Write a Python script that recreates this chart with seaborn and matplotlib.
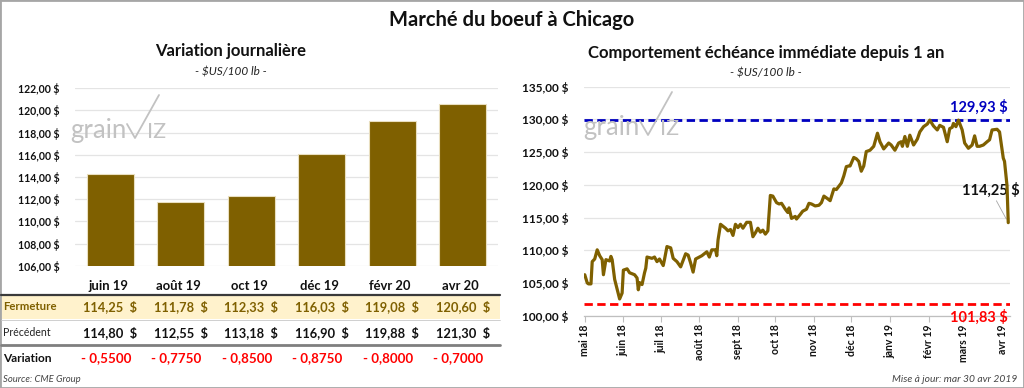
import numpy as np
import pandas as pd
import matplotlib
matplotlib.use('Agg')
import matplotlib.pyplot as plt
from matplotlib.transforms import blended_transform_factory
from matplotlib.patches import Rectangle
from matplotlib.lines import Line2D
import seaborn as sns

# ---------------- data ----------------
echeances = ['juin 19', 'août 19', 'oct 19', 'déc 19', 'févr 20', 'avr 20']
fermeture = [114.25, 111.78, 112.33, 116.03, 119.08, 120.60]
precedent = [114.80, 112.55, 113.18, 116.90, 119.88, 121.30]
variation = [-0.5500, -0.7750, -0.8500, -0.8750, -0.8000, -0.7000]

# days since 1 May 2018 / nearby futures price ($US/100 lb)
jours = [0, 2, 3, 5, 6, 8, 10, 12, 14, 15,
         17, 20, 21, 22, 24, 28, 30, 31, 34, 36,
         40, 42, 43, 44, 46, 48, 49, 50, 54, 56,
         58, 60, 63, 64, 66, 69, 71, 74, 77, 81,
         83, 85, 87, 89, 90, 94, 98, 100, 102, 105,
         106, 107, 109, 113, 115, 117, 119, 121, 123, 125,
         127, 130, 133, 135, 137, 139, 141, 143, 145, 147,
         149, 151, 154, 156, 158, 161, 163, 164, 166, 169,
         170, 173, 175, 178, 180, 182, 185, 188, 190, 192,
         195, 197, 200, 202, 204, 206, 208, 210, 212, 213,
         216, 218, 220, 222, 224, 226, 229, 232, 235, 237,
         240, 244, 246, 249, 252, 254, 255, 257, 259, 261,
         264, 267, 269, 272, 275, 277, 280, 283, 285, 288,
         291, 293, 295, 296, 298, 300, 303, 305, 308, 311,
         313, 315, 317, 320, 323, 325, 327, 331, 333, 336,
         337, 339, 340]
prix = [106.3, 105.05, 104.9, 104.9, 108.3, 108.7, 110.1, 109.2, 108.6, 106.3,
        108.6, 108.4, 109.1, 108.6, 105.6, 102.6, 103.5, 107.0, 107.2, 106.6,
        106.3, 105.8, 104.0, 105.1, 104.8, 106.6, 107.3, 109.0, 108.8, 109.0,
        108.3, 108.7, 107.7, 108.6, 110.6, 110.4, 108.8, 108.3, 107.5, 109.5,
        109.3, 108.1, 106.7, 108.7, 108.8, 109.2, 109.8, 109.0, 110.1, 110.1,
        109.2, 111.6, 114.0, 113.4, 113.0, 113.2, 112.3, 114.0, 113.5, 114.0,
        113.4, 114.3, 114.3, 112.1, 112.7, 113.4, 112.8, 113.1, 112.5, 113.0,
        118.4, 118.3, 117.3, 117.1, 117.2, 116.3, 115.8, 116.5, 114.9, 115.2,
        114.8, 115.5, 116.0, 116.3, 117.2, 117.1, 116.8, 116.9, 117.3, 118.3,
        117.9, 117.6, 119.4, 119.3, 119.8, 120.3, 121.4, 122.8, 122.9, 122.9,
        124.2, 124.0, 123.6, 122.1, 122.9, 125.1, 125.3, 125.9, 127.9, 126.6,
        125.5, 126.4, 126.1, 125.3, 126.4, 126.6, 125.9, 127.4, 125.9, 127.6,
        126.1, 127.0, 128.1, 128.9, 129.3, 129.9, 129.0, 128.4, 129.1, 128.8,
        126.6, 128.6, 128.8, 129.4, 128.9, 129.9, 128.4, 126.4, 125.6, 126.1,
        127.5, 125.9, 125.9, 126.1, 126.6, 126.9, 128.4, 128.5, 128.1, 124.1,
        123.6, 119.9, 114.25]
assert len(jours) == len(prix)

sommet = 129.93
creux = 101.83
dernier = 114.25
mois_labels = ['mai 18', 'juin 18', 'juil 18', 'août 18', 'sept 18', 'oct 18',
               'nov 18', 'déc 18', 'janv 19', 'févr 19', 'mars 19', 'avr 19']

# ---------------- style ----------------
sns.set_theme(style='white')
plt.rcParams['font.family'] = ['Lato', 'DejaVu Sans']

GOLD = '#7F6000'
W, H = 1024, 388


def fx(p):
    return p / W


def fy(p):
    return 1 - p / H


def fr(v, nd=2):
    return f"{v:.{nd}f}".replace('.', ',')


fig = plt.figure(figsize=(10.24, 3.88), dpi=100)
fig.patch.set_facecolor('white')

# ---------------- left: bar chart ----------------
ax1 = fig.add_axes([fx(75), fy(265.7), fx(498 - 75), (265.7 - 88.3) / H])
df_bar = pd.DataFrame({'echeance': echeances, 'fermeture': fermeture})
sns.barplot(data=df_bar, x='echeance', y='fermeture', ax=ax1, color=GOLD,
            saturation=1, width=0.66, edgecolor='#E9DFC0', linewidth=0.8,
            zorder=3)
ax1.set_ylim(106, 122)
yt1 = np.arange(106, 122.01, 2)
ax1.set_yticks(yt1)
ax1.set_yticklabels([fr(v) + ' $' for v in yt1], fontweight='bold', fontsize=7.6)
ax1.set_xlim(-0.5, 5.5)
ax1.grid(axis='y', color='#E4E4E4', lw=0.9)
ax1.set_axisbelow(True)
ax1.set_xlabel('')
ax1.set_ylabel('')
ax1.tick_params(axis='x', labelbottom=False, length=0)
ax1.tick_params(axis='y', length=0, pad=11, colors='#111111')
for s in ax1.spines.values():
    s.set_visible(False)

# ---------------- table under bars ----------------
trans = blended_transform_factory(ax1.transData, fig.transFigure)
fig.add_artist(Rectangle((fx(1), fy(319)), fx(499), (319 - 295) / H,
                         transform=fig.transFigure, facecolor='#FFF2CC',
                         edgecolor='none', zorder=0))
fig.add_artist(Line2D([fx(1), fx(500)], [fy(294.5), fy(294.5)], color='#3A3A3A', lw=1.6))
fig.add_artist(Line2D([fx(1), fx(500)], [fy(319.5), fy(319.5)], color='#C8C8C8', lw=0.6))
fig.add_artist(Line2D([fx(1), fx(500)], [fy(345), fy(345)], color='#7F7F7F', lw=2.0))

for i, m in enumerate(echeances):
    ax1.text(i - 0.03, fy(286.5), m, transform=trans, ha='center', va='center',
             fontsize=9.4, fontweight='bold', color='#111111', clip_on=False)
    ax1.text(i, fy(307), fr(fermeture[i]) + '  $', transform=trans, ha='center',
             va='center', fontsize=9.3, fontweight='bold', color=GOLD, clip_on=False)
    ax1.text(i, fy(332.5), fr(precedent[i]) + '  $', transform=trans, ha='center',
             va='center', fontsize=9.3, fontweight='bold', color='#111111', clip_on=False)
    ax1.text(i - 0.06, fy(358.5), '- ' + fr(abs(variation[i]), 4), transform=trans,
             ha='center', va='center', fontsize=9.6, fontweight='bold',
             color='#FF0000', clip_on=False)

fig.text(fx(3), fy(307), 'Fermeture', ha='left', va='center', fontsize=8.2,
         fontweight='bold', color=GOLD)
fig.text(fx(3), fy(332.5), 'Précédent', ha='left', va='center', fontsize=7.6,
         color='#222222')
fig.text(fx(3), fy(358.5), 'Variation', ha='left', va='center', fontsize=8.6,
         fontweight='bold', color='#111111')
fig.text(fx(3), fy(379.5), 'Source: CME Group', ha='left', va='center',
         fontsize=6.8, fontstyle='italic', color='#444444')

# ---------------- right: line chart ----------------
ax2 = fig.add_axes([fx(584), fy(316), fx(1010 - 584), (316 - 86.7) / H])
dates = pd.Timestamp('2018-05-01') + pd.to_timedelta(jours, unit='D')
df_line = pd.DataFrame({'date': dates, 'prix': prix})
sns.lineplot(data=df_line, x='date', y='prix', ax=ax2, color=GOLD, lw=2.3, zorder=4)
ax2.axhline(sommet, color='#0000C0', lw=2.0, ls=(0, (3, 1.6)), zorder=3)
ax2.axhline(creux, color='#FF0000', lw=2.0, ls=(0, (3, 1.6)), zorder=3)
ax2.set_ylim(100, 135)
yt2 = np.arange(100, 135.01, 5)
ax2.set_yticks(yt2)
ax2.set_yticklabels([fr(v) + ' $' for v in yt2], fontweight='bold', fontsize=8.5)
ax2.set_xlim(dates[0] - pd.Timedelta(days=0.6), dates[-1] + pd.Timedelta(days=1.4))
mticks = pd.date_range('2018-05-01', periods=len(mois_labels), freq='MS')
ax2.set_xticks(mticks)
ax2.set_xticklabels(mois_labels, rotation=90, fontweight='bold', fontsize=7.6)
ax2.grid(axis='y', color='#E4E4E4', lw=0.9)
ax2.set_axisbelow(True)
ax2.set_xlabel('')
ax2.set_ylabel('')
for k, s in ax2.spines.items():
    s.set_visible(k == 'bottom')
ax2.spines['bottom'].set_color('#BFBFBF')
ax2.spines['bottom'].set_linewidth(0.9)
ax2.tick_params(axis='y', length=0, pad=11, colors='#111111')
ax2.tick_params(axis='x', length=4, width=0.8, pad=2, colors='#111111', bottom=True)
ax2.tick_params(axis='x', color='#BFBFBF')

lbl = blended_transform_factory(ax2.transAxes, ax2.transData)
ax2.text(0.995, sommet + 1.9, fr(sommet) + ' $', transform=lbl, ha='right',
         va='center', fontsize=10.5, fontweight='bold', color='#0000C0', clip_on=False)
ax2.text(0.995, creux - 1.95, fr(creux) + ' $', transform=lbl, ha='right',
         va='center', fontsize=10.5, fontweight='bold', color='#FF0000', clip_on=False)
ax2.annotate(fr(dernier) + ' $', xy=(dates[-1], dernier), xycoords='data',
             xytext=(1.022, dernier + 5.0), textcoords=lbl, ha='right', va='center',
             fontsize=10.5, fontweight='bold', color='#111111', annotation_clip=False,
             arrowprops=dict(arrowstyle='-', color='#A6A6A6', lw=0.6,
                             shrinkA=0, shrinkB=3))


# ---------------- watermark logos ----------------
def logo(x0, base):
    c = '#C2C2C2'
    fig.text(fx(x0), fy(base), 'grain', ha='left', va='baseline', fontsize=18.5,
             color=c, zorder=1)
    fig.add_artist(Line2D([fx(x0 + 57), fx(x0 + 65), fx(x0 + 89)],
                          [fy(base - 14), fy(base), fy(base - 43)],
                          color=c, lw=1.3, zorder=1))
    fig.text(fx(x0 + 77), fy(base), 'IZ', ha='left', va='baseline', fontsize=15.5,
             color=c, zorder=1)


logo(70, 138)
logo(583, 135)

# ---------------- titles ----------------
fig.text(0.5, fy(20), 'Marché du boeuf à Chicago', ha='center', va='center',
         fontsize=14.5, fontweight='bold', color='#111111')
fig.text(fx(231), fy(51), 'Variation journalière', ha='center', va='center',
         fontsize=12, fontweight='bold', color='#111111')
fig.text(fx(231), fy(72), '- $US/100 lb -', ha='center', va='center',
         fontsize=8.5, fontstyle='italic', color='#222222')
fig.text(fx(766), fy(53), 'Comportement échéance immédiate depuis 1 an',
         ha='center', va='center', fontsize=12, fontweight='bold', color='#111111')
fig.text(fx(766), fy(73.5), '- $US/100 lb -', ha='center', va='center',
         fontsize=8.5, fontstyle='italic', color='#222222')
fig.text(fx(1017), fy(379.5), 'Mise à jour: mar 30 avr 2019', ha='right',
         va='center', fontsize=7.4, fontstyle='italic', color='#444444')

# border
fig.add_artist(Rectangle((0, 0), 1, 1, transform=fig.transFigure, fill=False,
                         edgecolor='#A6A6A6', lw=2))

fig.savefig('out.png', dpi=100)
